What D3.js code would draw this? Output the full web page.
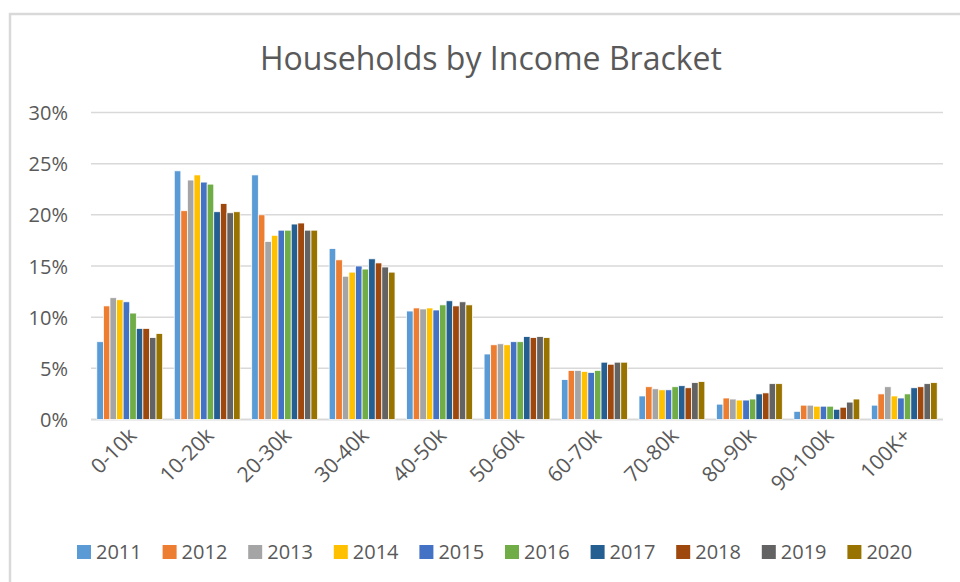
<!DOCTYPE html>
<html>
<head>
<meta charset="utf-8">
<script src="https://cdn.jsdelivr.net/npm/d3@7"></script>
<style>
  body { margin: 0; background: #fff; }
  svg text { font-family: "Open Sans", sans-serif; fill: #595959; }
</style>
</head>
<body>
<svg id="chart" width="960" height="582"></svg>
<script>
const brackets = ["0-10k", "10-20k", "20-30k", "30-40k", "40-50k", "50-60k", "60-70k", "70-80k", "80-90k", "90-100k", "100K+"];
const years = ["2011", "2012", "2013", "2014", "2015", "2016", "2017", "2018", "2019", "2020"];
const colors = ["#5B9BD5", "#ED7D31", "#A5A5A5", "#FFC000", "#4472C4", "#70AD47", "#255E91", "#9E480E", "#636363", "#997300"];
const yTicks = [0, 0.05, 0.10, 0.15, 0.20, 0.25, 0.30];

// percent of households, one array per year, in bracket order
const y2011 = [7.6, 24.3, 23.9, 16.7, 10.6, 6.4, 3.9, 2.3, 1.5, 0.8, 1.4];
const y2012 = [11.1, 20.4, 20.0, 15.6, 10.9, 7.3, 4.8, 3.2, 2.1, 1.4, 2.5];
const y2013 = [11.9, 23.4, 17.4, 14.0, 10.8, 7.4, 4.8, 3.0, 2.0, 1.4, 3.2];
const y2014 = [11.7, 23.9, 18.0, 14.4, 10.9, 7.3, 4.7, 2.9, 1.9, 1.3, 2.3];
const y2015 = [11.5, 23.2, 18.5, 15.0, 10.7, 7.6, 4.6, 2.9, 1.9, 1.3, 2.1];
const y2016 = [10.4, 23.0, 18.5, 14.7, 11.2, 7.6, 4.8, 3.2, 2.0, 1.3, 2.5];
const y2017 = [8.9, 20.3, 19.1, 15.7, 11.6, 8.1, 5.6, 3.3, 2.5, 1.0, 3.1];
const y2018 = [8.9, 21.1, 19.2, 15.3, 11.1, 8.0, 5.4, 3.1, 2.6, 1.2, 3.2];
const y2019 = [8.0, 20.2, 18.5, 14.9, 11.5, 8.1, 5.6, 3.6, 3.5, 1.7, 3.5];
const y2020 = [8.4, 20.3, 18.5, 14.4, 11.2, 8.0, 5.6, 3.7, 3.5, 2.0, 3.6];
const series = [y2011, y2012, y2013, y2014, y2015, y2016, y2017, y2018, y2019, y2020];

var svg = d3.select("#chart");

// chart frame (only top/left visible in the crop)
svg.append("rect")
    .attr("x", 10).attr("y", 14)
    .attr("width", 980).attr("height", 600)
    .attr("fill", "none")
    .attr("stroke", "#d9d9d9")
    .attr("stroke-width", 2.5);

svg.append("text")
    .attr("x", 491).attr("y", 70)
    .attr("text-anchor", "middle")
    .attr("font-size", 33)
    .attr("textLength", 462)
    .attr("lengthAdjust", "spacingAndGlyphs")
    .text("Households by Income Bracket");

var x0 = d3.scaleBand().domain(brackets).range([91, 943]).paddingInner(0.15).paddingOuter(0.075);
var x1 = d3.scaleBand().domain(years).range([0, x0.bandwidth()]);
var y = d3.scaleLinear().domain([0, 0.30]).range([419.5, 112.5]);
var color = d3.scaleOrdinal(years, colors);

// gridlines
svg.append("g").selectAll("line").data(yTicks).enter().append("line")
    .attr("x1", 91).attr("x2", 943)
    .attr("y1", d => y(d)).attr("y2", d => y(d))
    .attr("stroke", "#d9d9d9")
    .attr("stroke-width", d => d === 0 ? 2 : 1.5);

var yAxis = svg.append("g")
    .attr("transform", "translate(68,0)")
    .call(d3.axisLeft(y).tickValues(yTicks).tickFormat(d3.format(".0%")).tickSize(0).tickPadding(0));
yAxis.select(".domain").remove();
yAxis.selectAll("text").attr("font-size", 20).attr("dy", "0.35em").attr("fill", "#595959");

// bars
var groups = svg.append("g").selectAll("g").data(brackets).enter().append("g")
    .attr("transform", d => "translate(" + x0(d) + ",0)");
groups.selectAll("rect")
    .data((d, i) => years.map((yr, j) => ({ year: yr, value: series[j][i] / 100 })))
    .enter().append("rect")
    .attr("x", d => x1(d.year))
    .attr("width", x1.bandwidth())
    .attr("y", d => y(d.value))
    .attr("height", d => y(0) - y(d.value))
    .attr("fill", d => color(d.year))
    .attr("stroke", "#fff")
    .attr("stroke-width", 0.75);

// category labels, rotated
svg.append("g").selectAll("text").data(brackets).enter().append("text")
    .attr("transform", d => "translate(" + (x0(d) + x0.bandwidth() / 2 + 8) + ",437) rotate(-45)")
    .attr("text-anchor", "end")
    .attr("font-size", 21)
    .text(d => d);

// legend
var legend = svg.append("g").selectAll("g").data(years).enter().append("g")
    .attr("transform", (d, i) => "translate(" + (77 + i * 85.6) + ",545)");
legend.append("rect")
    .attr("width", 14).attr("height", 14)
    .attr("fill", d => color(d));
legend.append("text")
    .attr("x", 19).attr("y", 7)
    .attr("dy", "0.35em")
    .attr("font-size", 20)
    .text(d => d);
</script>
</body>
</html>
